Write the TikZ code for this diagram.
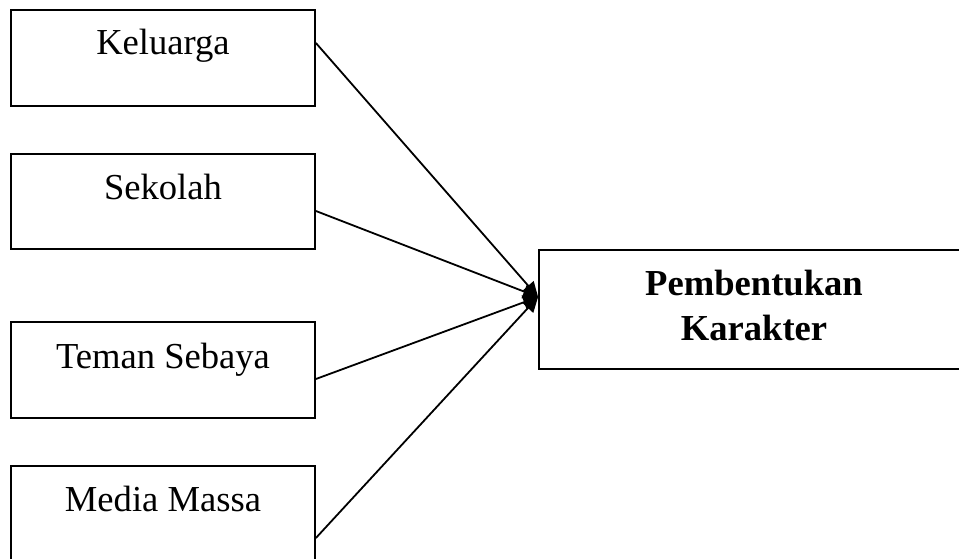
\documentclass[tikz,border=0pt]{standalone}
\usepackage{fontspec}
\setmainfont{Liberation Serif}
\usetikzlibrary{arrows.meta}
\begin{document}
\begin{tikzpicture}[x=1pt,y=1pt,
  box/.style={draw=black,line width=1.8pt,rectangle,inner sep=0pt},
  lbl/.style={anchor=base,inner sep=0pt,font=\fontsize{36.6}{44}\selectfont},
  blbl/.style={anchor=base,inner sep=0pt,font=\fontsize{36.6}{44}\selectfont\bfseries},
  link/.style={line width=1.8pt,-{Triangle[length=15pt,width=14pt]}}]
\clip (0,0) rectangle (959,-559);
\node[box,minimum width=304pt,minimum height=96pt] (k) at (163,-58) {};
\node[box,minimum width=304pt,minimum height=95pt] (s) at (163,-201.5) {};
\node[box,minimum width=304pt,minimum height=96pt] (ts) at (163,-370) {};
\node[box,minimum width=304pt,minimum height=96pt] (mm) at (163,-514) {};
\node[box,minimum width=430pt,minimum height=119pt] (pk) at (754,-309.5) {};
\node[lbl] (kt) at (163,-55) {Keluarga};
\node[lbl] (st) at (163,-200) {Sekolah};
\node[lbl] (tst) at (163,-368) {Teman Sebaya};
\node[lbl] (mmt) at (163,-511) {Media Massa};
\node[blbl] (pkt1) at (754,-295) {Pembentukan};
\node[blbl] (pkt2) at (754,-340) {Karakter};
\coordinate (tip) at ([yshift=12.5pt]pk.west);
\coordinate (k1) at ([yshift=15pt]k.east);
\coordinate (s1) at ([yshift=-9.5pt]s.east);
\coordinate (ts1) at ([yshift=-9pt]ts.east);
\coordinate (mm1) at ([yshift=-24pt]mm.east);
\draw[link] (k1) -- (tip);
\draw[link] (s1) -- (tip);
\draw[link] (ts1) -- (tip);
\draw[link] (mm1) -- (tip);
\end{tikzpicture}
\end{document}
